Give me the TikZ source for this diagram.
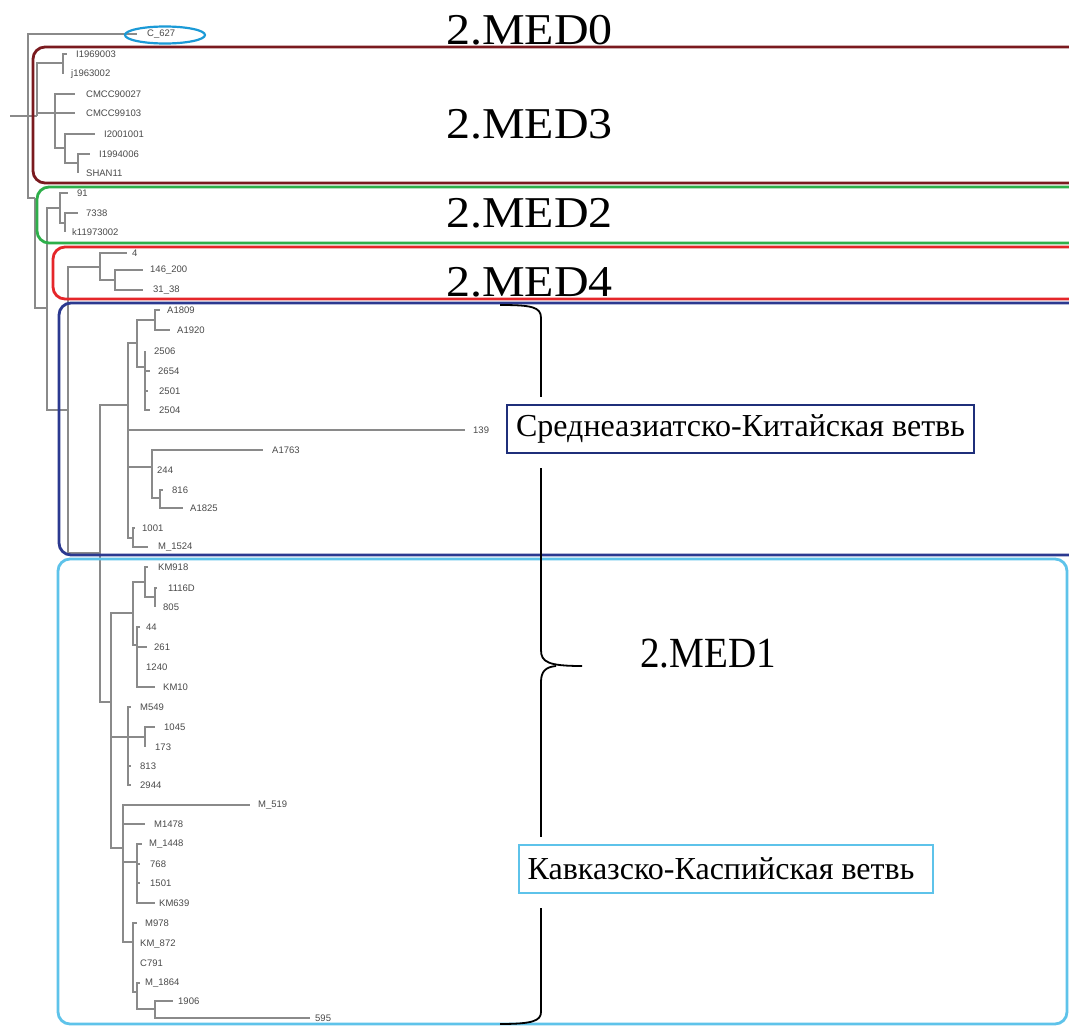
\documentclass[tikz,border=0pt]{standalone}
\usepackage{fontspec}
\setmainfont{Liberation Serif}
\newfontfamily\lsans{Liberation Sans}
\definecolor{brc}{HTML}{8A8A8A}
\definecolor{ltc}{HTML}{4A4A4A}
\definecolor{cMthree}{HTML}{7A1A1F}
\definecolor{cMtwo}{HTML}{2EAF4A}
\definecolor{cMfour}{HTML}{E5262A}
\definecolor{cBl}{HTML}{2B3990}
\definecolor{cLb}{HTML}{5EC3EA}
\definecolor{cMzero}{HTML}{1B9AD7}
\definecolor{cBox}{HTML}{1F2F7A}
\tikzset{
  branch/.style={draw=brc,line width=1.1pt},
  leaflab/.style={anchor=west,inner sep=0pt,font=\lsans\fontsize{9.5}{10}\selectfont,text=ltc},
  biglab/.style={anchor=base west,inner sep=0pt,font=\fontsize{44}{44}\selectfont},
  clade/.style={line width=2.8pt,rounded corners=12pt},
  ribbon/.style={draw,line width=1.8pt,inner sep=0pt,font=\fontsize{32}{32}\selectfont,minimum height=48pt}
}
\newcommand\lf[6]{%
  \coordinate (#1t) at (#3,#4);
  \node[leaflab] (#1) at (#5,#4) {#6};
  \draw[branch] (#2) |- (#1t);}
\newcommand\inode[4]{%
  \coordinate (#1) at (#3,#4);
  \draw[branch] (#2) |- (#1);}
\newcommand\wide[1]{\scalebox{1.09}[1]{#1}}
\begin{document}
\begin{tikzpicture}[x=1pt,y=-1pt]
\fill[white] (0,0) rectangle (1069,1027);
\useasboundingbox (0,0) rectangle (1069,1027);
% ---- tree ----
\coordinate (R0) at (10,116);
\coordinate (R) at (28,116);
\draw[branch] (R0) -- (R);
\lf{lC}{R}{137}{34}{147}{C\_627}
\inode{A3}{R}{37}{116}
\inode{A3a}{A3}{63}{63}
\lf{lIa}{A3a}{67}{54}{76}{I1969003}
\lf{ljb}{A3a}{63}{74}{71}{j1963002}
\inode{A3b}{A3}{55}{113}
\lf{lCMa}{A3b}{75}{94}{86}{CMCC90027}
\lf{lCMb}{A3b}{75}{113}{86}{CMCC99103}
\inode{A3c}{A3b}{65}{148}
\lf{lIc}{A3c}{95}{134}{104}{I2001001}
\inode{A3d}{A3c}{78}{163}
\lf{lId}{A3d}{90}{154}{99}{I1994006}
\lf{lSH}{A3d}{78}{173}{86}{SHAN11}
\inode{B}{R}{35}{198}
\inode{C}{B}{47}{308}
\inode{M2}{C}{60}{208}
\lf{lninetyone}{M2}{68}{193}{77}{91}
\inode{M2a}{M2}{65}{223}
\lf{lseven}{M2a}{78}{213}{86}{7338}
\lf{lk}{M2a}{65}{232}{72}{k11973002}
\inode{D}{C}{68}{410}
\inode{M4}{D}{100}{267}
\lf{lfour}{M4}{127}{253}{132}{4}
\inode{M4a}{M4}{115}{280}
\lf{lonefour}{M4a}{143}{270}{150}{146\_200}
\lf{lthirty}{M4a}{143}{290}{153}{31\_38}
\inode{E}{D}{100}{553}
\inode{F}{E}{128}{405}
\inode{G}{F}{137}{343}
\inode{H}{G}{155}{320}
\lf{lAa}{H}{160}{310}{167}{A1809}
\lf{lAb}{H}{170}{330}{177}{A1920}
\inode{Ii}{G}{145}{367}
\lf{lta}{Ii}{145}{351}{154}{2506}
\lf{ltb}{Ii}{150}{371}{158}{2654}
\lf{ltc}{Ii}{148}{391}{159}{2501}
\lf{ltd}{Ii}{150}{410}{159}{2504}
\lf{lonethree}{F}{465}{430}{473}{139}
\inode{J}{F}{152}{467}
\lf{lAc}{J}{263}{450}{272}{A1763}
\lf{ltwofour}{J}{152}{470}{157}{244}
\inode{K}{J}{160}{498}
\lf{leight}{K}{163}{490}{172}{816}
\lf{lAd}{K}{183}{508}{190}{A1825}
\inode{L}{F}{133}{538}
\lf{lthousand}{L}{135}{528}{142}{1001}
\lf{lMa}{L}{148}{547}{158}{M\_1524}
\inode{M}{E}{111}{702}
\inode{N}{M}{133}{613}
\inode{Na}{N}{145}{582}
\lf{lKMa}{Na}{148}{567}{158}{KM918}
\inode{Nb}{Na}{155}{597}
\lf{leleven}{Nb}{157}{588}{168}{1116D}
\lf{leightoh}{Nb}{155}{607}{163}{805}
\inode{Nc}{N}{137}{645}
\lf{lfortyfour}{Nc}{140}{627}{146}{44}
\lf{ltwosix}{Nc}{147}{647}{154}{261}
\lf{ltwelve}{Nc}{137}{667}{146}{1240}
\lf{lKMb}{Nc}{155}{687}{163}{KM10}
\inode{O}{M}{128}{737}
\lf{lMb}{O}{131}{707}{140}{M549}
\inode{Oa}{O}{145}{737}
\lf{lten}{Oa}{155}{727}{164}{1045}
\lf{lseventy}{Oa}{145}{747}{155}{173}
\lf{leightthirteen}{O}{131}{766}{140}{813}
\lf{ltwonine}{O}{131}{785}{140}{2944}
\inode{Q}{M}{123}{848}
\lf{lMc}{Q}{250}{805}{258}{M\_519}
\lf{lMd}{Q}{145}{824}{154}{M1478}
\inode{Qa}{Q}{137}{862}
\lf{lMe}{Qa}{142}{844}{149}{M\_1448}
\lf{lsevensix}{Qa}{140}{864}{150}{768}
\lf{lfifteen}{Qa}{140}{883}{150}{1501}
\lf{lKMc}{Qa}{155}{903}{159}{KM639}
\inode{Qb}{Q}{133}{942}
\lf{lMf}{Qb}{137}{923}{145}{M978}
\lf{lKMd}{Qb}{133}{944}{140}{KM\_872}
\lf{lCs}{Qb}{133}{963}{140}{C791}
\inode{Qc}{Qb}{137}{992}
\lf{lMg}{Qc}{140}{983}{145}{M\_1864}
\inode{Qd}{Qc}{155}{1009}
\lf{lnineteen}{Qd}{173}{1001}{178}{1906}
% ---- clade frames ----
\draw[cMzero,line width=2.2pt] (165,35) ellipse (40 and 8.5);
\draw[clade,cMthree] (33,47) rectangle (1085,183);
\draw[clade,cMtwo] (37,187) rectangle (1085,243);
\draw[clade,cMfour] (53,247) rectangle (1085,299);
\draw[clade,cBl] (59,303) rectangle (1085,555);
\draw[clade,cLb] (58,559) rectangle (1067,1024);
\lf{lfive}{Qd}{310}{1018}{315}{595}
% ---- big labels ----
\node[biglab] (med0) at (446,45) {\wide{2.MED0}};
\node[biglab] (med3) at (446,139) {\wide{2.MED3}};
\node[biglab] (med2) at (446,228) {\wide{2.MED2}};
\node[biglab] (med4) at (446,297) {\wide{2.MED4}};
% ---- brace ----
\draw[black,line width=1.8pt]
  (500,305) .. controls (532,305) and (541,307) .. (541,318)
  -- (541,650) .. controls (541,662) and (548,666) .. (582,666);
\draw[black,line width=1.8pt]
  (556,666) .. controls (546,667) and (541,671) .. (541,682)
  -- (541,1012) .. controls (541,1021) and (532,1024) .. (500,1024);
\node[biglab,font=\fontsize{43}{43}\selectfont] (med1) at (640,667) {\scalebox{0.91}[1]{2.MED1}};
% ---- branch boxes ----
\fill[white] (499,397) rectangle (982,468);
\node[ribbon,draw=cBox,minimum width=467pt] (sred) at (740.5,429) {Среднеазиатско-Китайская ветвь};
\fill[white] (512,837) rectangle (940,908);
\node[ribbon,draw=cLb,minimum width=414pt] (kavk) at (726,869) {\hspace{-10pt}Кавказско-Каспийская ветвь};
\end{tikzpicture}
\end{document}
